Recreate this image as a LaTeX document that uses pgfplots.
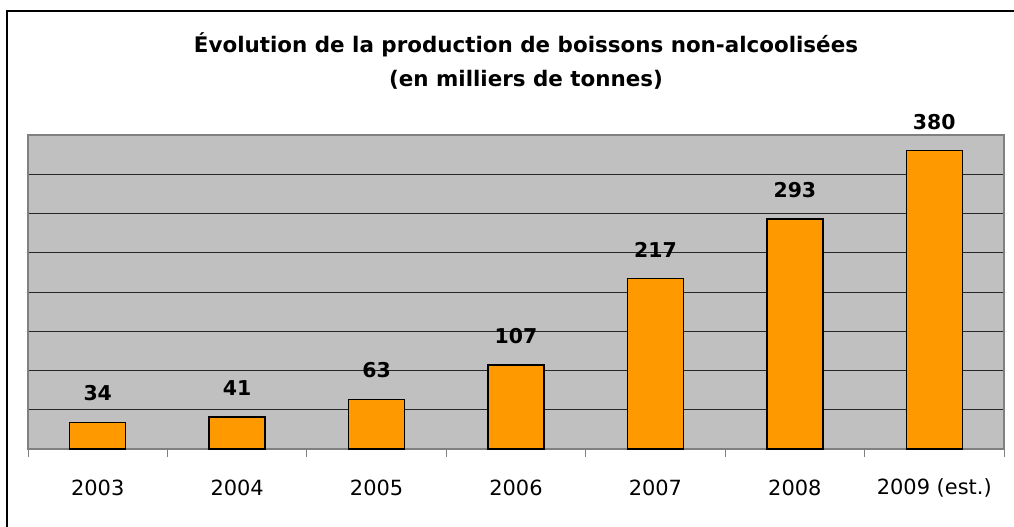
\documentclass[border=0pt]{standalone}
\usepackage{pgfplots}
\pgfplotsset{compat=1.18}
\usepackage{fontspec}
\setmainfont{DejaVu Sans}
\definecolor{barorange}{RGB}{255,153,0}
\definecolor{plotgray}{RGB}{192,192,192}
\definecolor{bordergray}{RGB}{128,128,128}
\begin{document}
\begin{tikzpicture}[x=1bp,y=1bp]
\useasboundingbox (0,0) rectangle (1014,527);
\draw[line width=1.2bp] (7,-5) -- (7,516) -- (1020,516);
\node[font=\bfseries\fontsize{21.5}{26}\selectfont] at (526,482) {Évolution de la production de boissons non-alcoolisées};
\node[font=\bfseries\fontsize{21.5}{26}\selectfont] at (526,447) {(en milliers de tonnes)};
\begin{axis}[
  at={(28bp,78bp)}, anchor=south west,
  scale only axis, width=976bp, height=314bp,
  xmin=-0.5, xmax=6.5, ymin=0, ymax=400,
  /pgf/number format/assume math mode=true,
  axis background/.style={fill=plotgray},
  axis line style={bordergray, line width=1.5bp},
  ytick={0,50,...,400}, yticklabels={},
  ymajorgrids, grid style={black!85, line width=0.9bp},
  ytick style={draw=none},
  xtick={0,...,6},
  xticklabels={2003,2004,2005,2006,2007,2008,2009 (est.)},
  minor xtick={-0.5,0.5,...,6.5},
  xtick pos=lower,
  tick align=outside,
  major tick length=0pt, minor tick length=8bp,
  xtick style={bordergray, line width=1bp},
  xticklabel style={font=\fontsize{21}{25}\selectfont, anchor=center, yshift=-39bp},
  ybar, bar width=56bp,
  clip=false,
  nodes near coords,
  every node near coord/.append style={font=\bfseries\fontsize{20.5}{24}\selectfont, anchor=center, yshift=29bp},
]
\addplot[fill=barorange, draw=black, line width=1.5bp] coordinates {
  (0,34) (1,41) (2,63) (3,107) (4,217) (5,293) (6,380)
};
\end{axis}
\end{tikzpicture}
\end{document}
